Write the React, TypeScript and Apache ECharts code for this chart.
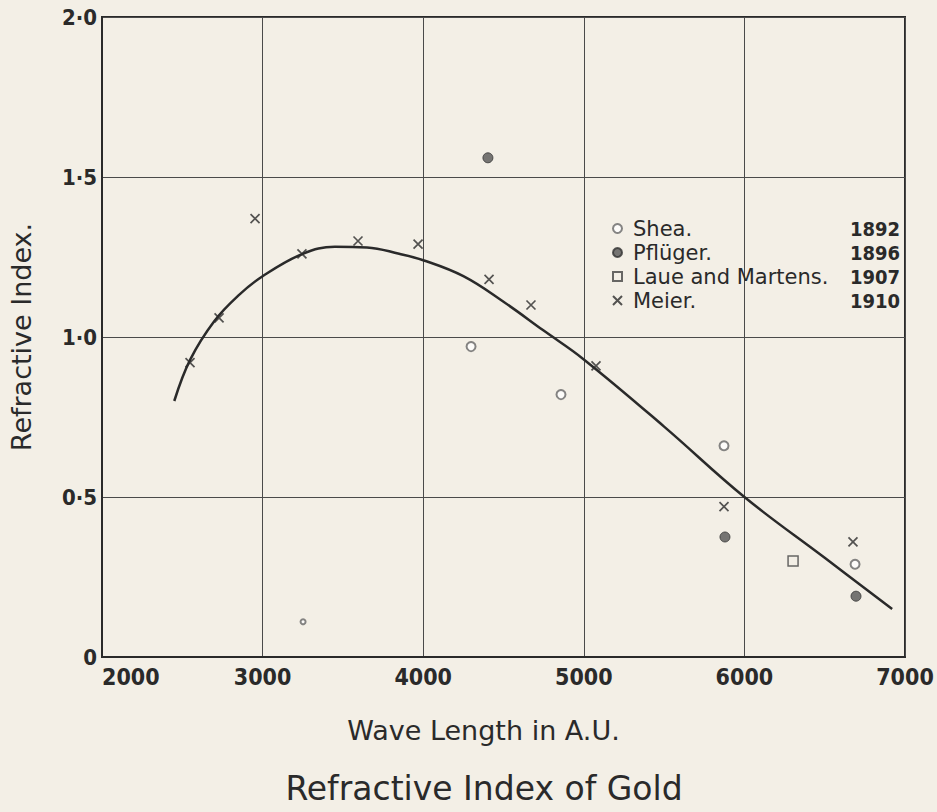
import React, { useEffect, useRef } from "react";
import * as echarts from "echarts";

const xTicks = [2000, 3000, 4000, 5000, 6000, 7000];
const yTicks = [0, 0.5, 1.0, 1.5, 2.0];

const sheaX = [3252, 4298, 4858, 5873, 6689];
const sheaY = [0.11, 0.97, 0.82, 0.66, 0.29];
const pflugerX = [4403, 5879, 6695];
const pflugerY = [1.56, 0.375, 0.19];
const laueX = [6303];
const laueY = [0.3];
const meierX = [2548, 2729, 2953, 3245, 3594, 3968, 4410, 4671, 5076, 5873, 6676];
const meierY = [0.92, 1.06, 1.37, 1.26, 1.3, 1.29, 1.18, 1.1, 0.91, 0.47, 0.36];
const curveX = [2450, 2550, 2700, 2850, 3000, 3250, 3450, 3650, 3850, 4000, 4250, 4500, 4750, 5000, 5500, 6000, 6500, 6920];
const curveY = [0.8, 0.93, 1.05, 1.13, 1.19, 1.26, 1.282, 1.28, 1.26, 1.24, 1.19, 1.11, 1.02, 0.93, 0.72, 0.5, 0.31, 0.15];

const seriesNames = ["Shea.", "Pflüger.", "Laue and Martens.", "Meier."];
const seriesYears = ["1892", "1896", "1907", "1910"];

const zip = (xs: number[], ys: number[]) => xs.map((x, i) => [x, ys[i]]);

const INK = "#2a2a2a";
const BG = "#f3efe6";
const CROSS = "path://M0,0L10,10M0,10L10,0";
const NARROW = "Liberation Sans Narrow, DejaVu Sans Condensed";

export default function App() {
  const ref = useRef<HTMLDivElement>(null);
  useEffect(() => {
    document.body.style.margin = "0";
    document.body.style.background = BG;
    const chart = echarts.init(ref.current!, null, { renderer: "svg" });
    const sheaData: any[] = zip(sheaX, sheaY).map((d, i) =>
      i === 0 ? { value: d, symbolSize: 5 } : d
    );
    chart.setOption({
      animation: false,
      backgroundColor: BG,
      title: {
        text: "Refractive Index of Gold",
        left: 479,
        top: 767,
        textAlign: "center",
        textStyle: { fontFamily: "DejaVu Sans", fontWeight: "normal", fontSize: 33, color: INK },
      },
      grid: {
        left: 102,
        top: 17,
        width: 803,
        height: 640,
        show: true,
        borderColor: INK,
        borderWidth: 2,
        backgroundColor: "transparent",
      },
      legend: {
        orient: "vertical",
        left: 607,
        top: 213,
        itemWidth: 9,
        itemHeight: 9,
        itemGap: 3,
        data: seriesNames,
        formatter: (name: string) => {
          const i = seriesNames.indexOf(name);
          return `{n|${name}}{y|${seriesYears[i]}}`;
        },
        textStyle: {
          color: INK,
          rich: {
            n: { fontFamily: "DejaVu Sans", fontSize: 21, width: 227, padding: [0, 0, 0, 6], lineHeight: 22, color: INK },
            y: { fontFamily: NARROW, fontWeight: "bold", fontSize: 20, width: 40, align: "right", lineHeight: 22, color: INK },
          },
        },
      },
      xAxis: {
        type: "value",
        min: 2000,
        max: 7000,
        interval: 1000,
        name: "Wave Length in A.U.",
        nameLocation: "middle",
        nameGap: 60,
        nameTextStyle: { fontFamily: "DejaVu Sans", fontSize: 27, color: INK, padding: [0, 40, 0, 0] },
        axisLine: { show: true, lineStyle: { color: INK, width: 2 } },
        axisTick: { show: false },
        splitLine: { show: true, lineStyle: { color: "#4a4a4a", width: 1 } },
        axisLabel: {
          margin: 8,
          color: INK,
          fontFamily: "DejaVu Sans Condensed",
          fontWeight: "bold",
          fontSize: 23,
          alignMinLabel: "left",
          formatter: (v: number) => (xTicks.includes(v) ? String(v) : ""),
        },
      },
      yAxis: {
        type: "value",
        min: 0,
        max: 2,
        interval: 0.5,
        name: "Refractive Index.",
        nameLocation: "middle",
        nameGap: 67,
        nameRotate: 90,
        nameTextStyle: { fontFamily: "DejaVu Sans", fontSize: 27, color: INK },
        axisLine: { show: true, lineStyle: { color: INK, width: 2 } },
        axisTick: { show: false },
        splitLine: { show: true, lineStyle: { color: "#4a4a4a", width: 1 } },
        axisLabel: {
          margin: 5,
          color: INK,
          fontFamily: "DejaVu Sans Condensed",
          fontWeight: "bold",
          fontSize: 22,
          formatter: (v: number) =>
            yTicks.includes(v) ? (v === 0 ? "0" : v.toFixed(1).replace(".", "·")) : "",
        },
      },
      series: [
        {
          name: "curve",
          type: "line",
          data: zip(curveX, curveY),
          smooth: 0.4,
          symbol: "none",
          lineStyle: { color: INK, width: 2.5 },
          z: 2,
        },
        {
          name: seriesNames[0],
          type: "scatter",
          data: sheaData,
          symbol: "emptyCircle",
          symbolSize: 9,
          itemStyle: { color: "#666", borderColor: "#666", borderWidth: 1.3 },
          z: 3,
        },
        {
          name: seriesNames[1],
          type: "scatter",
          data: zip(pflugerX, pflugerY),
          symbol: "circle",
          symbolSize: 10,
          itemStyle: { color: "#555", borderColor: "#333", borderWidth: 1 },
          z: 3,
        },
        {
          name: seriesNames[2],
          type: "scatter",
          data: zip(laueX, laueY),
          symbol: "rect",
          symbolSize: 10,
          itemStyle: { color: "transparent", borderColor: "#444", borderWidth: 1.5 },
          z: 3,
        },
        {
          name: seriesNames[3],
          type: "scatter",
          data: zip(meierX, meierY),
          symbol: CROSS,
          symbolSize: 9,
          itemStyle: { color: "transparent", borderColor: INK, borderWidth: 1.7 },
          z: 3,
        },
      ],
    });
    return () => chart.dispose();
  }, []);
  return <div ref={ref} style={{ width: 937, height: 812 }} />;
}
